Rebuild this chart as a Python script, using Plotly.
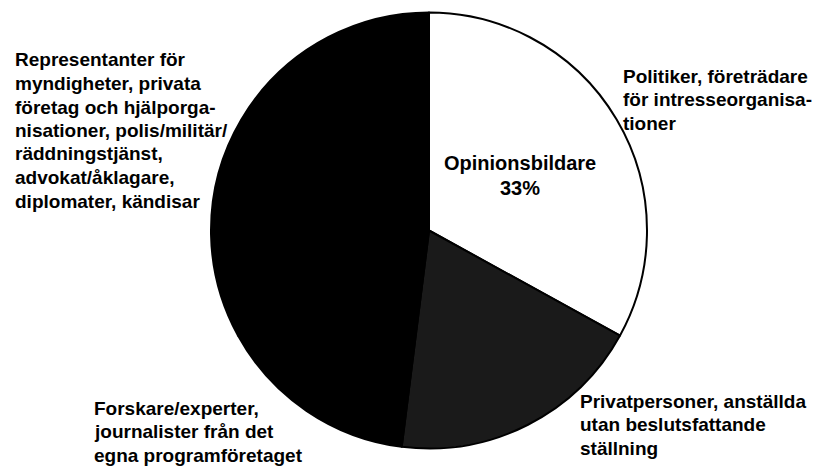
import plotly.graph_objects as go

W, H = 818, 470

categories = [
    "Politiker, företrädare för intresseorganisationer",
    "Privatpersoner, anställda utan beslutsfattande ställning",
    "Forskare/experter, journalister från det egna programföretaget",
    "Representanter för myndigheter, privata företag och hjälporganisationer, polis/militär/räddningstjänst, advokat/åklagare, diplomater, kändisar",
]
values = [33, 19, 15, 33]
colors = ["#ffffff", "#1a1a1a", "#000000", "#000000"]

label_lines = [
    ["Politiker, företrädare", "för intresseorganisa-", "tioner"],
    ["Privatpersoner, anställda", "utan beslutsfattande", "ställning"],
    ["Forskare/experter,", "journalister från det", "egna programföretaget"],
    ["Representanter för", "myndigheter, privata", "företag och hjälporga-",
     "nisationer, polis/militär/", "räddningstjänst,", "advokat/åklagare,",
     "diplomater, kändisar"],
]
# left x and first-line centre y (pixels)
label_pos = [(621, 76), (578, 401), (92, 408), (13, 60)]
line_step = 23.5

inner_lines = ["Opinionsbildare", "33%"]
inner_pos = (520, 163)

cx, cy, r = 429, 230.5, 218
FONT = "Liberation Sans, Arial, Helvetica, sans-serif"
FS = 19

fig = go.Figure(go.Pie(
    labels=categories,
    values=values,
    sort=False,
    direction="clockwise",
    rotation=0,
    textinfo="none",
    hoverinfo="label+percent",
    marker=dict(colors=colors, line=dict(color="#000000", width=2)),
    domain=dict(x=[(cx - r) / W, (cx + r) / W], y=[1 - (cy + r) / H, 1 - (cy - r) / H]),
    showlegend=False,
))

annotations = []
for lines, (px, py) in zip(label_lines, label_pos):
    for i, line in enumerate(lines):
        annotations.append(dict(
            text="<b>" + line + "</b>", x=px / W, y=1 - (py + i * line_step) / H,
            xref="paper", yref="paper", xanchor="left", yanchor="middle",
            align="left", showarrow=False,
            font=dict(family=FONT, size=FS, color="#000000"),
        ))
for i, line in enumerate(inner_lines):
    annotations.append(dict(
        text="<b>" + line + "</b>", x=inner_pos[0] / W, y=1 - (inner_pos[1] + i * 25) / H,
        xref="paper", yref="paper", xanchor="center", yanchor="middle",
        align="center", showarrow=False,
        font=dict(family=FONT, size=20, color="#000000"),
    ))

fig.update_layout(
    width=W, height=H,
    margin=dict(l=0, r=0, t=0, b=0),
    paper_bgcolor="#ffffff",
    plot_bgcolor="#ffffff",
    annotations=annotations,
)

fig.write_html("out.html", config={"displayModeBar": False},
               post_script="document.body.style.margin='0';document.body.style.overflow='hidden';")
